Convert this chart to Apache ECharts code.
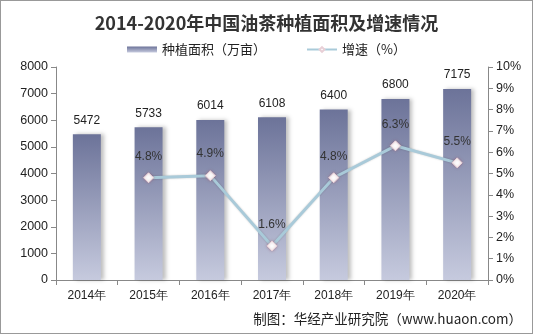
<!DOCTYPE html>
<html><head><meta charset="utf-8">
<script src="https://cdn.jsdelivr.net/npm/echarts@6/dist/echarts.min.js"></script>
<style>html,body{margin:0;padding:0;background:#fff}#c{width:533px;height:334px;box-sizing:border-box;border:1px solid #999}</style>
</head><body><div id="c"></div>
<script>
const categories = ['2014年','2015年','2016年','2017年','2018年','2019年','2020年'];
const areaValues = [5472, 5733, 6014, 6108, 6400, 6800, 7175];
const growthValues = [null, 4.8, 4.9, 1.6, 4.8, 6.3, 5.5];
const titleText = '2014-2020年中国油茶种植面积及增速情况';
const sourceText = '制图：华经产业研究院（www.huaon.com）';

const chart = echarts.init(document.getElementById('c'));
const font = "'Noto Sans CJK SC', 'Liberation Sans', sans-serif";
const numFont = "'Liberation Sans', sans-serif";
chart.setOption({
  animation: false,
  textStyle: {fontFamily: font},
  title: {text: titleText, left: 'center', top: 8,
    textStyle: {fontSize: 18, fontWeight: 'bold', color: '#333', fontFamily: font}},
  graphic: [{type: 'text', right: 10, bottom: 7,
    style: {text: sourceText, fontSize: 13.5, fill: '#222', fontFamily: font}}],
  legend: {top: 37, left: 'center', itemGap: 40, itemWidth: 30, itemHeight: 6,
    textStyle: {fontSize: 13, color: '#222', fontFamily: font},
    data: [{name: '种植面积（万亩）', icon: 'rect'}, {name: '增速（%）'}]},
  grid: {left: 55, right: 44, top: 66, bottom: 53},
  xAxis: {type: 'category', data: categories,
    axisLine: {lineStyle: {color: '#888'}},
    axisTick: {show: true, lineStyle: {color: '#888'}},
    axisLabel: {color: '#222', fontSize: 12, margin: 10, fontFamily: numFont}},
  yAxis: [
    {type: 'value', min: 0, max: 8000, interval: 1000,
      axisLine: {show: true, lineStyle: {color: '#888'}},
      axisTick: {show: true, lineStyle: {color: '#888'}},
      splitLine: {show: false},
      axisLabel: {color: '#222', fontSize: 12.5, formatter: v => String(v), fontFamily: numFont}},
    {type: 'value', min: 0, max: 10, interval: 1,
      axisLine: {show: true, lineStyle: {color: '#888'}},
      axisTick: {show: true, lineStyle: {color: '#888'}},
      splitLine: {show: false},
      axisLabel: {color: '#222', fontSize: 12.5, formatter: '{value}%', fontFamily: numFont}}
  ],
  series: [
    {name: '种植面积（万亩）', type: 'bar', data: areaValues, barWidth: 28,
      itemStyle: {
        color: new echarts.graphic.LinearGradient(0, 0, 0, 1, [
          {offset: 0, color: '#6c7399'}, {offset: 1, color: '#c6cade'}]),
        shadowColor: 'rgba(0,0,0,0.25)', shadowBlur: 4, shadowOffsetX: 3, shadowOffsetY: 0},
      label: {show: true, position: 'top', distance: 8, color: '#222', fontSize: 12,
        fontFamily: numFont}},
    {name: '增速（%）', type: 'line', yAxisIndex: 1, data: growthValues,
      symbol: 'diamond', symbolSize: 10,
      lineStyle: {color: '#a9cad9', width: 3, shadowColor: 'rgba(0,0,0,0.2)', shadowBlur: 2},
      itemStyle: {color: '#ffffff', borderColor: '#e8cfd6', borderWidth: 1,
        shadowColor: 'rgba(150,80,100,0.5)', shadowBlur: 3},
      label: {show: true, position: 'top', distance: 10, color: '#333', fontSize: 12,
        formatter: p => p.value + '%', fontFamily: numFont}}
  ]
});
</script></body></html>
